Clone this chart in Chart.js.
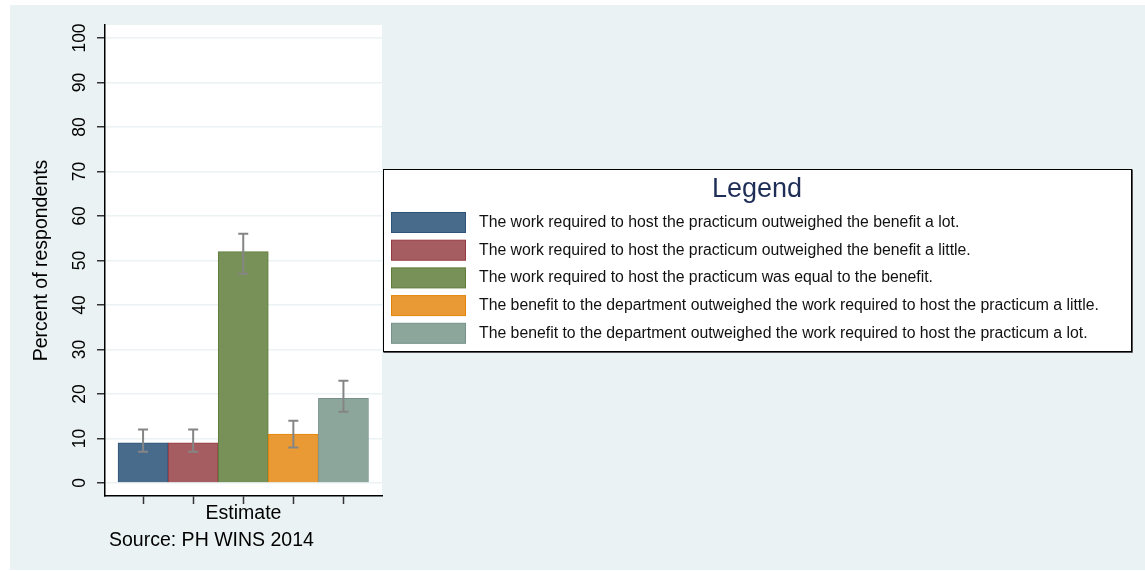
<!DOCTYPE html>
<html>
<head>
<meta charset="utf-8">
<script src="https://cdn.jsdelivr.net/npm/chart.js@4.4.1/dist/chart.umd.min.js"></script>
<style>
  html, body { margin: 0; padding: 0; background: #fff; }
  #wrap { width: 1145px; height: 571px; }
</style>
</head>
<body>
<div id="wrap"><canvas id="chart" width="1145" height="571"></canvas></div>
<script>
// --- data ---
const categories = [
  'The work required to host the practicum outweighed the benefit a lot.',
  'The work required to host the practicum outweighed the benefit a little.',
  'The work required to host the practicum was equal to the benefit.',
  'The benefit to the department outweighed the work required to host the practicum a little.',
  'The benefit to the department outweighed the work required to host the practicum a lot.'
];
const values  = [9, 9, 52, 11, 19];
const errLow  = [7, 7, 47, 8, 16];
const errHigh = [12, 12, 56, 14, 23];
const yTicks  = [0, 10, 20, 30, 40, 50, 60, 70, 80, 90, 100];

const fillColors = ['#486b8c', '#a65d62', '#789159', '#e99a35', '#8ca69c'];
const lineColors = ['#2f5479', '#94393f', '#5e7b38', '#e38409', '#75918a'];

const FONT = "'Liberation Sans', Arial, Helvetica, sans-serif";
const PANEL = '#eaf2f3';

// backgrounds: outer panel + white plot region
const backgrounds = {
  id: 'backgrounds',
  beforeDraw(chart) {
    const { ctx, chartArea: a } = chart;
    ctx.save();
    ctx.fillStyle = '#fff';
    ctx.fillRect(0, 0, chart.width, chart.height);
    ctx.fillStyle = PANEL;
    ctx.fillRect(10, 5, chart.width - 10, 565);
    ctx.fillStyle = '#fff';
    ctx.fillRect(a.left, a.top, a.right - a.left, a.bottom - a.top);
    ctx.restore();
  }
};

// confidence intervals
const errorBars = {
  id: 'errorBars',
  afterDatasetsDraw(chart) {
    const { ctx, scales: { x, y } } = chart;
    ctx.save();
    ctx.strokeStyle = '#858585';
    ctx.lineWidth = 2;
    values.forEach((v, i) => {
      const px = x.getPixelForValue(i + 1);
      const lo = y.getPixelForValue(errLow[i]);
      const hi = y.getPixelForValue(errHigh[i]);
      ctx.beginPath();
      ctx.moveTo(px, lo); ctx.lineTo(px, hi);
      ctx.moveTo(px - 5, lo); ctx.lineTo(px + 5, lo);
      ctx.moveTo(px - 5, hi); ctx.lineTo(px + 5, hi);
      ctx.stroke();
    });
    ctx.restore();
  }
};

// boxed legend to the right + source note
const sideLegend = {
  id: 'sideLegend',
  afterDraw(chart) {
    const { ctx } = chart;
    const bx = 383.5, by = 169.5, bw = 748, bh = 182;
    ctx.save();
    ctx.fillStyle = '#fff';
    ctx.fillRect(bx, by, bw, bh);
    ctx.strokeStyle = '#000';
    ctx.lineWidth = 1;
    ctx.strokeRect(bx, by, bw, bh);
    ctx.strokeStyle = '#555';
    ctx.beginPath();
    ctx.moveTo(bx, by + bh + 1); ctx.lineTo(bx + bw + 1, by + bh + 1); ctx.lineTo(bx + bw + 1, by);
    ctx.stroke();

    ctx.fillStyle = '#1f2e57';
    ctx.font = '27px ' + FONT;
    ctx.textAlign = 'center';
    ctx.textBaseline = 'middle';
    ctx.fillText('Legend', 757, 190);

    ctx.textAlign = 'left';
    ctx.font = '15.8px ' + FONT;
    categories.forEach((label, i) => {
      const cy = 222.5 + i * 27.7;
      ctx.fillStyle = fillColors[i];
      ctx.fillRect(391.5, cy - 10, 74, 20);
      ctx.strokeStyle = lineColors[i];
      ctx.strokeRect(391.5, cy - 10, 74, 20);
      ctx.fillStyle = '#111';
      ctx.fillText(label, 479, cy);
    });

    ctx.fillStyle = '#000';
    ctx.font = '19.5px ' + FONT;
    ctx.fillText('Source: PH WINS 2014', 109, 541);
    ctx.restore();
  }
};

new Chart(document.getElementById('chart'), {
  type: 'bar',
  data: {
    datasets: [{
      data: values.map((v, i) => ({ x: i + 1, y: v })),
      backgroundColor: fillColors,
      borderColor: lineColors,
      borderWidth: 1,
      barPercentage: 1,
      categoryPercentage: 1
    }]
  },
  options: {
    responsive: false,
    animation: false,
    layout: { padding: { left: 0, right: 763, top: 25, bottom: 0 } },
    plugins: { legend: { display: false }, tooltip: { enabled: false } },
    scales: {
      x: {
        type: 'linear',
        offset: false,
        min: 0.24,
        max: 5.77,
        afterBuildTicks: s => { s.ticks = categories.map((c, i) => ({ value: i + 1 })); },
        afterFit: s => { s.height = 75; },
        grid: { offset: false, drawOnChartArea: false, drawTicks: true, tickLength: 8, tickColor: '#333', tickWidth: 1.5 },
        border: { display: true, color: '#000', width: 1.5 },
        ticks: { callback: () => '', autoSkip: false, padding: 0 },
        title: {
          display: true, text: 'Estimate', color: '#000',
          font: { family: FONT, size: 19.5 },
          padding: { top: 0, bottom: 46 }
        }
      },
      y: {
        min: -2.92,
        max: 102.92,
        afterBuildTicks: s => { s.ticks = yTicks.map(v => ({ value: v })); },
        afterFit: s => { s.width = 105; },
        grid: { color: PANEL, lineWidth: 1.5, drawTicks: true, tickLength: 8, tickColor: '#333', tickWidth: 1.5 },
        border: { display: true, color: '#000', width: 1.5 },
        ticks: {
          color: '#000', autoSkip: false,
          minRotation: 90, maxRotation: 90, crossAlign: 'center', padding: 2,
          font: { family: FONT, size: 17.5 }
        },
        title: {
          display: true, text: 'Percent of respondents', color: '#000',
          font: { family: FONT, size: 19.5 },
          padding: { top: 30, bottom: 0 }
        }
      }
    }
  },
  plugins: [backgrounds, errorBars, sideLegend]
});
</script>
</body>
</html>
